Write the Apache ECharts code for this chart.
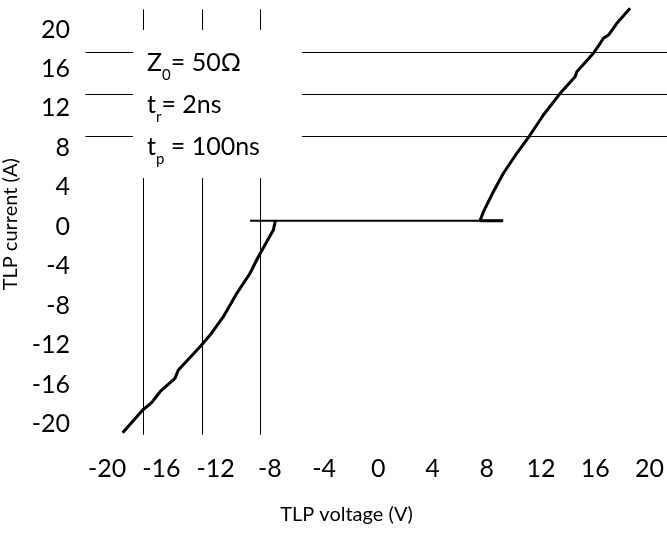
<!DOCTYPE html>
<html>
<head>
<meta charset="utf-8">
<script src="https://cdn.jsdelivr.net/npm/echarts@6/dist/echarts.min.js"></script>
<style>
  html, body {margin: 0; padding: 0; background: #fff;}
  #chart {width: 667px; height: 533px;}
</style>
</head>
<body>
<div id="chart"></div>
<script>
// tick labels
const xTicks = [-20, -16, -12, -8, -4, 0, 4, 8, 12, 16, 20];
const yTicks = [20, 16, 12, 8, 4, 0, -4, -8, -12, -16, -20];

// leakage floor (V, A)
const flatV = [-9.46, 9.21];
const flatI = [0.6, 0.6];

// negative sweep
const negV = [-18.86, -17.38, -16.72, -16.47, -16.10, -15.00, -14.75, -13.15, -12.41, -11.43, -10.44, -9.46, -8.85, -8.23, -7.74, -7.6];
const negI = [-20.88, -18.58, -17.84, -17.39, -16.73, -15.37, -14.52, -12.16, -10.98, -9.12, -6.75, -4.72, -3.04, -1.52, -0.33, 0.6];

// positive sweep
const posV = [9.21, 7.5, 7.76, 8.49, 9.23, 10.22, 11.20, 12.18, 13.42, 14.52, 14.65, 15.87, 16.37, 16.61, 16.98, 17.60, 18.58];
const posI = [0.6, 0.6, 1.53, 3.55, 5.42, 7.45, 9.30, 11.33, 13.53, 15.21, 15.72, 17.59, 18.60, 19.11, 19.44, 20.63, 22.15];

// reference lines
const guideV = [-17.32, -13.01, -8.71];
const guideI = [17.72, 13.46, 9.2];
const guideVSpan = [-21.1, 22.05];
const guideISpan = [-21.6, 21.3];
// area left free for the pulse settings text
const boxV = [-18.1, -5.63];
const boxI = [4.94, 19.95];

const notes = [
  '{a|Z}{b|0}{a|= 50Ω}',
  '{a|t}{b|r}{a|= 2ns}',
  '{a|t}{b|p}{a| = 100ns}'
];

const font = 'Lato, "Noto Sans", sans-serif';

const pairs = (xs, ys) => xs.map((x, i) => [x, ys[i]]);

const guideLines = [];
guideV.forEach(v => {
  guideLines.push([{coord: [v, guideVSpan[0]]}, {coord: [v, boxI[0]]}]);
  guideLines.push([{coord: [v, boxI[1]]}, {coord: [v, guideVSpan[1]]}]);
});
guideI.forEach(a => {
  guideLines.push([{coord: [guideISpan[0], a]}, {coord: [boxV[0], a]}]);
  guideLines.push([{coord: [boxV[1], a]}, {coord: [guideISpan[1], a]}]);
});

const rich = {
  a: {fontSize: 25, fontFamily: font, fill: '#000', lineHeight: 30, verticalAlign: 'top'},
  b: {fontSize: 15, fontFamily: font, fill: '#000', lineHeight: 8, padding: [18, 0, 0, 0], verticalAlign: 'top'}
};

const option = {
  animation: false,
  backgroundColor: '#fff',
  grid: {left: 80.1, right: 0, top: 4.84, bottom: 89.3, containLabel: false, outerBoundsMode: 'none'},
  xAxis: {
    type: 'value',
    min: -22,
    max: 21.3,
    name: 'TLP voltage (V)',
    nameLocation: 'middle',
    nameGap: 61,
    nameTextStyle: {fontSize: 20, fontFamily: font, color: '#000', padding: [0, 54, 0, 0]},
    axisLine: {show: false},
    axisTick: {show: false},
    splitLine: {show: false},
    axisLabel: {
      customValues: xTicks,
      fontSize: 25,
      fontFamily: font,
      color: '#000',
      margin: 13
    }
  },
  yAxis: {
    type: 'value',
    min: -22,
    max: 22.5,
    name: 'TLP current (A)',
    nameLocation: 'middle',
    nameGap: 51,
    nameTextStyle: {fontSize: 20, fontFamily: font, color: '#000'},
    axisLine: {show: false},
    axisTick: {show: false},
    splitLine: {show: false},
    axisLabel: {
      customValues: yTicks,
      fontSize: 25,
      fontFamily: font,
      color: '#000',
      margin: 10
    }
  },
  series: [
    {
      type: 'line',
      data: pairs(flatV, flatI),
      symbol: 'none',
      lineStyle: {color: '#000', width: 2},
      markLine: {
        silent: true,
        symbol: 'none',
        label: {show: false},
        lineStyle: {color: '#000', width: 1, type: 'solid'},
        data: guideLines
      }
    },
    {
      type: 'line',
      data: pairs(negV, negI),
      symbol: 'none',
      lineStyle: {color: '#000', width: 3}
    },
    {
      type: 'line',
      data: pairs(posV, posI),
      symbol: 'none',
      lineStyle: {color: '#000', width: 3}
    }
  ],
  graphic: notes.map((t, i) => ({
    type: 'text',
    left: 147,
    top: [50, 92, 134][i],
    style: {text: t, rich: rich, fill: '#000'}
  }))
};

const myChart = echarts.init(document.getElementById('chart'));
myChart.setOption(option);
</script>
</body>
</html>
